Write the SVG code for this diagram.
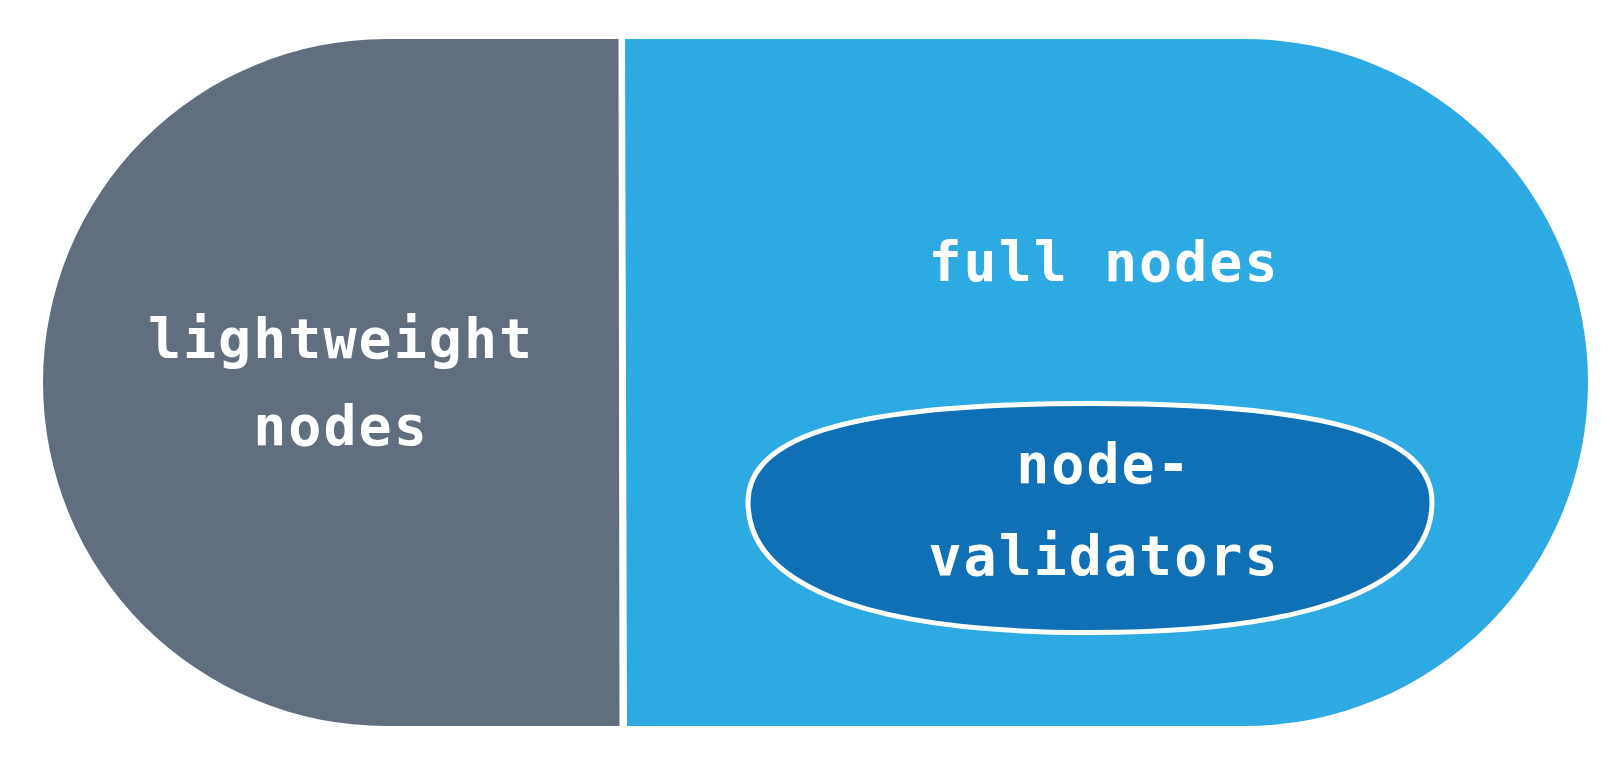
<svg xmlns="http://www.w3.org/2000/svg" width="1610" height="770" viewBox="0 0 1610 770">
  <style>
    .lbl { font-family: "DejaVu Sans Mono", "Liberation Mono", monospace; font-size: 55px; font-weight: bold; letter-spacing: 2px; fill: #ffffff; text-anchor: middle; }
  </style>
  <rect x="0" y="0" width="1610" height="770" fill="#ffffff"/>
  <g id="lightweight-nodes">
    <path d="M 618.5 39 L 386.5 39 A 343.5 343.5 0 0 0 386.5 726 L 619.5 726 Z" fill="#616e7e"/>
    <text class="lbl" x="341" y="358">lightweight</text>
    <text class="lbl" x="341" y="445">nodes</text>
  </g>
  <g id="full-nodes">
    <path d="M 625 39 L 1244.5 39 A 343.5 343.5 0 0 1 1244.5 726 L 627 726 Z" fill="#2eaae2"/>
    <text class="lbl" x="1104" y="281">full nodes</text>
  </g>
  <g id="node-validators">
    <path d="M 748 502 C 748 441 835 403.5 1090 403.5 C 1345 403.5 1432 441 1432 502 C 1432 580 1328 632.5 1090 632.5 C 852 632.5 748 580 748 502 Z" fill="#1070b6" stroke="#ffffff" stroke-width="5"/>
    <text class="lbl" x="1104" y="483">node-</text>
    <text class="lbl" x="1104" y="575">validators</text>
  </g>
  <g id="connectors"/>
</svg>
